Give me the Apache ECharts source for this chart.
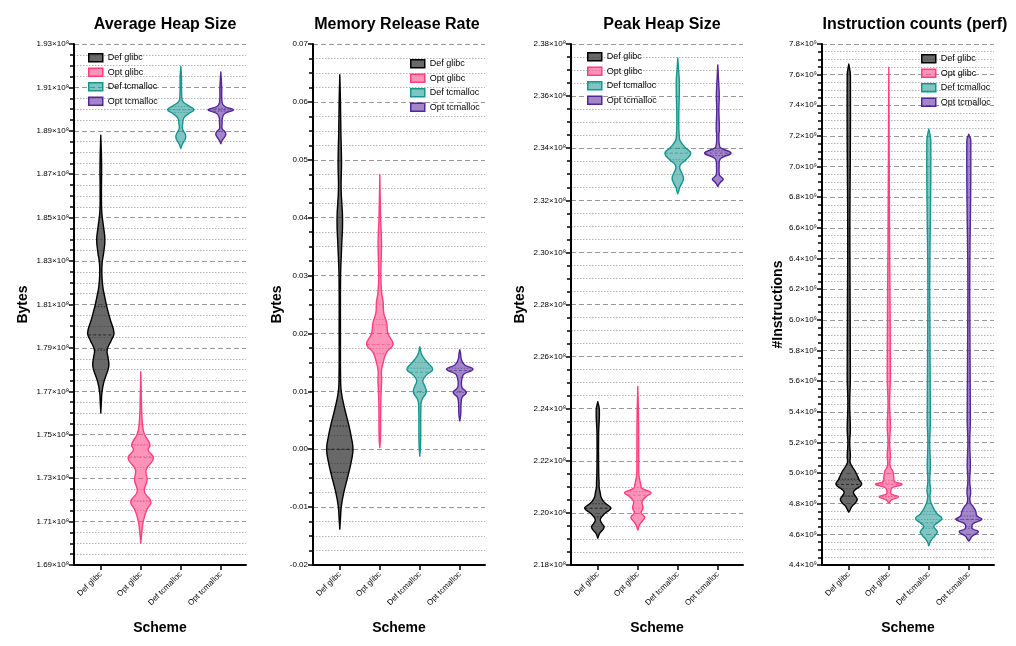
<!DOCTYPE html>
<html><head><meta charset="utf-8">
<script src="https://cdn.jsdelivr.net/npm/echarts@6/dist/echarts.min.js"></script>
<style>html,body{margin:0;padding:0;background:#fff}#c{width:1016px;height:646px}</style>
</head><body><div id="c"></div>
<script>
// ---------- DATA ----------
const categories = ['Def glibc', 'Opt glibc', 'Def tcmalloc', 'Opt tcmalloc'];
const panelTitles = ['Average Heap Size', 'Memory Release Rate', 'Peak Heap Size', 'Instruction counts (perf)'];
const yNames = ['Bytes', 'Bytes', 'Bytes', '#Instructions'];

// violin profiles: [value, relative density]; panel 1 & 3 in units of 1e8, panel 4 in 1e9
const heapDefGlibc = [[1.760,0],[1.766,0.05],[1.769,0.08],[1.774,0.22],[1.7814,0.6],[1.7855,0.55],[1.7891,0.48],[1.7935,0.8],[1.7968,1.0],[1.803,0.72],[1.8091,0.45],[1.8140,0.28],[1.8183,0.15],[1.824,0.08],[1.829,0.1],[1.834,0.22],[1.8398,0.31],[1.846,0.2],[1.8521,0.08],[1.86,0.05],[1.875,0.06],[1.888,0]];
const heapOptGlibc = [[1.700,0],[1.705,0.08],[1.710,0.18],[1.7154,0.45],[1.7192,0.77],[1.7238,0.27],[1.7292,0.48],[1.7338,0.4],[1.7392,0.96],[1.743,0.55],[1.7453,0.7],[1.7507,0.25],[1.7569,0.1],[1.765,0.05],[1.779,0]];
const heapDefTc = [[1.8818,0],[1.8836,0.1],[1.8874,0.38],[1.891,0.12],[1.8935,0.15],[1.8959,0.22],[1.898,0.6],[1.8997,1],[1.9015,0.6],[1.9036,0.15],[1.906,0.07],[1.915,0.05],[1.9197,0]];
const heapOptTc = [[1.8841,0],[1.8855,0.1],[1.8873,0.3],[1.8885,0.38],[1.8897,0.3],[1.891,0.1],[1.8935,0.1],[1.896,0.12],[1.898,0.3],[1.8997,0.96],[1.9012,0.3],[1.903,0.1],[1.91,0.07],[1.9171,0]];

const relDefGlibc = [[-0.0138,0],[-0.012,0.05],[-0.0098,0.12],[-0.0075,0.3],[-0.0046,0.62],[-0.002,0.88],[0,1],[0.002,0.88],[0.004,0.7],[0.0069,0.38],[0.0098,0.12],[0.012,0.06],[0.02,0.05],[0.03,0.06],[0.035,0.14],[0.0397,0.21],[0.045,0.1],[0.0495,0.13],[0.055,0.08],[0.06,0.05],[0.0647,0]];
const relOptGlibc = [[0.0003,0],[0.002,0.05],[0.0075,0.07],[0.0098,0.1],[0.0121,0.14],[0.0135,0.12],[0.0149,0.25],[0.0167,0.5],[0.0181,1],[0.02,0.62],[0.0218,0.52],[0.0235,0.3],[0.0255,0.25],[0.027,0.14],[0.03,0.08],[0.0356,0.13],[0.04,0.06],[0.0474,0]];
const relDefTc = [[-0.0012,0],[0.001,0.06],[0.007,0.08],[0.0085,0.15],[0.0098,0.48],[0.0108,0.4],[0.0118,0.23],[0.0128,0.5],[0.0138,0.98],[0.0148,0.65],[0.0155,0.38],[0.0165,0.12],[0.0177,0]];
const relOptTc = [[0.0049,0],[0.006,0.07],[0.008,0.1],[0.009,0.18],[0.0098,0.5],[0.0106,0.18],[0.0115,0.12],[0.0125,0.2],[0.013,0.32],[0.0138,1],[0.0146,0.35],[0.0155,0.12],[0.0165,0.06],[0.0172,0]];

const peakDefGlibc = [[2.1903,0],[2.1915,0.08],[2.1922,0.15],[2.1945,0.48],[2.196,0.3],[2.1973,0.19],[2.1985,0.3],[2.1999,0.55],[2.2018,1],[2.203,0.75],[2.2043,0.45],[2.206,0.25],[2.2075,0.19],[2.21,0.1],[2.2114,0.1],[2.215,0.07],[2.23,0.06],[2.2395,0.12],[2.2427,0]];
const peakOptGlibc = [[2.1934,0],[2.195,0.1],[2.196,0.2],[2.1983,0.52],[2.2001,0.25],[2.2018,0.4],[2.2043,0.32],[2.2062,0.62],[2.2078,1],[2.2094,0.32],[2.211,0.22],[2.2127,0.15],[2.215,0.08],[2.22,0.07],[2.235,0.06],[2.2485,0]];
const peakDefTc = [[2.3225,0],[2.3237,0.08],[2.3247,0.12],[2.3265,0.3],[2.3285,0.43],[2.3305,0.3],[2.3322,0.15],[2.3336,0.19],[2.3356,0.62],[2.3381,0.98],[2.34,0.62],[2.3413,0.38],[2.3428,0.18],[2.3439,0.12],[2.35,0.07],[2.365,0.12],[2.37,0.06],[2.3746,0]];
const peakOptTc = [[2.3253,0],[2.3264,0.12],[2.3272,0.25],[2.3281,0.41],[2.329,0.25],[2.3298,0.12],[2.333,0.1],[2.3356,0.15],[2.3366,0.38],[2.3381,1],[2.3397,0.38],[2.3405,0.15],[2.345,0.08],[2.3471,0.12],[2.355,0.08],[2.36,0.11],[2.365,0.07],[2.372,0]];

const instDefGlibc = [[4.745,0],[4.76,0.1],[4.784,0.25],[4.805,0.5],[4.828,0.64],[4.85,0.5],[4.872,0.35],[4.889,0.46],[4.926,0.97],[4.959,0.77],[5.002,0.54],[5.046,0.23],[5.07,0.1],[5.111,0.12],[5.2,0.07],[5.285,0.12],[5.45,0.07],[5.633,0.12],[6.5,0.08],[7.597,0.12],[7.669,0]];
const instOptGlibc = [[4.806,0],[4.815,0.1],[4.824,0.18],[4.846,0.74],[4.862,0.18],[4.88,0.15],[4.904,0.25],[4.926,1],[4.945,0.42],[4.97,0.38],[4.99,0.35],[5.013,0.3],[5.035,0.15],[5.06,0.08],[5.111,0.12],[5.2,0.06],[5.307,0.12],[5.45,0.06],[5.633,0.12],[6.5,0.06],[7.648,0]];
const instDefTc = [[4.525,0],[4.55,0.1],[4.575,0.3],[4.6,0.55],[4.617,0.65],[4.635,0.5],[4.654,0.38],[4.675,0.65],[4.704,1],[4.73,0.68],[4.76,0.42],[4.79,0.25],[4.81,0.15],[4.85,0.08],[4.883,0.14],[4.95,0.07],[5.046,0.12],[5.2,0.07],[5.351,0.12],[6.2,0.07],[7.169,0.15],[7.245,0]];
const instOptTc = [[4.556,0],[4.57,0.12],[4.588,0.25],[4.617,0.73],[4.635,0.3],[4.654,0.23],[4.672,0.35],[4.698,0.98],[4.72,0.62],[4.745,0.54],[4.763,0.46],[4.785,0.3],[4.8,0.15],[4.83,0.08],[4.872,0.14],[4.95,0.07],[5.046,0.12],[5.2,0.07],[5.351,0.12],[6.2,0.07],[7.169,0.15],[7.212,0]];

// quartile lines [q1, median, q3]
const heapQuart = [[1.789, 1.796, 1.809], [1.7192, 1.7395, 1.7455], [1.8985, 1.8997, 1.9012], [1.8990, 1.8997, 1.9004]];
const relQuart = [[-0.004, 0.0, 0.004], [0.0165, 0.0181, 0.0215], [0.0098, 0.0133, 0.0140], [0.0098, 0.0136, 0.0140]];
const peakQuart = [[2.1985, 2.2018, 2.2035], [2.2018, 2.2068, 2.2082], [2.3356, 2.3381, 2.3400], [2.3372, 2.3381, 2.3390]];
const instQuart = [[4.85, 4.926, 4.96], [4.846, 4.926, 4.935], [4.64, 4.675, 4.73], [4.64, 4.698, 4.72]];

// axis ranges [min, max, interval]
const yRanges = [[1.69, 1.93, 0.02], [-0.02, 0.07, 0.01], [2.18, 2.38, 0.02], [4.4, 7.8, 0.2]];
const yLabelSuffix = ['×10⁸', '', '×10⁸', '×10⁹'];
const yLabelDigits = [2, 2, 2, 1];

const profiles = [
  [heapDefGlibc, heapOptGlibc, heapDefTc, heapOptTc],
  [relDefGlibc, relOptGlibc, relDefTc, relOptTc],
  [peakDefGlibc, peakOptGlibc, peakDefTc, peakOptTc],
  [instDefGlibc, instOptGlibc, instDefTc, instOptTc]
];
const quartiles = [heapQuart, relQuart, peakQuart, instQuart];

// ---------- STYLE ----------
const strokes = ['#000000', '#ff3d7f', '#17958f', '#55259a'];
const fills = ['rgba(40,40,40,0.7)', 'rgba(255,61,127,0.55)', 'rgba(23,149,143,0.55)', 'rgba(85,37,154,0.55)'];
const gridLefts = [74, 313, 571, 822];
const GW = 172, GTOP = 44, GH = 521;
const titleCenters = [160, 392, 657, 910];
const yNameGaps = [44, 29, 44, 35];
const legendPos = [[88, 53], [410, 59], [587, 52], [921, 54]];
const FONT = 'Liberation Sans, Arial, sans-serif';
const HALF = 0.33; // max half-width in x-axis units

function widthAt(prof, v) {
  for (let i = 0; i < prof.length - 1; i++) {
    const a = prof[i], b = prof[i + 1];
    if (v >= a[0] && v <= b[0]) return a[1] + (b[1] - a[1]) * (v - a[0]) / (b[0] - a[0]);
  }
  return 0;
}

function makeRender(p, k) {
  return function (params, api) {
    const prof = profiles[p][k];
    const xc = k + 1;
    const halfPx = api.size([HALF, 0])[0];
    const cx = api.coord([xc, prof[0][0]])[0];
    const left = prof.map(d => [cx - d[1] * halfPx, api.coord([xc, d[0]])[1]]);
    const right = prof.slice().reverse().map(d => [cx + d[1] * halfPx, api.coord([xc, d[0]])[1]]);
    const children = [{
      type: 'polygon',
      shape: { points: left.concat(right), smooth: 0.45 },
      style: { fill: fills[k], stroke: strokes[k], lineWidth: 1.4, lineJoin: 'round' }
    }];
    quartiles[p][k].forEach((q, qi) => {
      const w = widthAt(prof, q) * halfPx;
      const y = api.coord([xc, q])[1];
      children.push({
        type: 'line',
        shape: { x1: cx - w, y1: y, x2: cx + w, y2: y },
        style: { stroke: strokes[k], lineWidth: 0.8, opacity: 0.8, lineDash: qi === 1 ? [3, 2] : [1.5, 1.5] }
      });
    });
    return { type: 'group', children };
  };
}

const grid = [], xAxis = [], yAxis = [], series = [], title = [], legend = [];
for (let p = 0; p < 4; p++) {
  grid.push({ left: gridLefts[p], top: GTOP, width: GW, height: GH });
  title.push({
    text: panelTitles[p], left: titleCenters[p], top: 12, textAlign: 'center',
    textStyle: { fontFamily: FONT, fontWeight: 'bold', fontSize: 16, color: '#000' }
  });
  xAxis.push({
    type: 'value', gridIndex: p, min: 0.33, max: 4.63,
    name: 'Scheme', nameLocation: 'middle', nameGap: 56,
    nameTextStyle: { fontFamily: FONT, fontWeight: 'bold', fontSize: 14, color: '#000' },
    axisLine: { show: true, onZero: false, lineStyle: { color: '#000', width: 2 } },
    axisTick: { show: true, customValues: [1, 2, 3, 4], length: 5, lineStyle: { color: '#000', width: 1.5 } },
    axisLabel: {
      customValues: [1, 2, 3, 4], rotate: 45, fontSize: 8, color: '#000', fontFamily: FONT, margin: 8,
      formatter: v => categories[Math.round(v) - 1]
    },
    splitLine: { show: false }
  });
  const r = yRanges[p];
  yAxis.push({
    type: 'value', gridIndex: p, min: r[0], max: r[1], interval: r[2],
    name: yNames[p], nameLocation: 'middle', nameGap: yNameGaps[p],
    nameTextStyle: { fontFamily: FONT, fontWeight: 'bold', fontSize: 14, color: '#000' },
    axisLine: { show: true, lineStyle: { color: '#000', width: 2 } },
    axisTick: { show: true, length: 5, lineStyle: { color: '#000', width: 1.5 } },
    minorTick: { show: true, splitNumber: 4, length: 4, lineStyle: { color: '#000', width: 1.5 } },
    axisLabel: {
      fontSize: 8, color: '#000', fontFamily: FONT, margin: 5,
      formatter: v => v.toFixed(yLabelDigits[p]) + yLabelSuffix[p]
    },
    splitLine: { show: true, lineStyle: { color: '#999', width: 1, type: [5, 3] } },
    minorSplitLine: { show: true, lineStyle: { color: '#b5b5b5', width: 1, type: [1.5, 1.5] } }
  });
  legend.push({
    orient: 'vertical', left: legendPos[p][0], top: legendPos[p][1], padding: 0,
    itemWidth: 14, itemHeight: 8, itemGap: 5, icon: 'rect',
    textStyle: { fontFamily: FONT, fontSize: 9, color: '#000' },
    data: categories.map((c, k) => ({ name: c, itemStyle: { color: fills[k], borderColor: strokes[k], borderWidth: 1.5 } })),
    selectedMode: false
  });
  for (let k = 0; k < 4; k++) {
    series.push({
      type: 'custom', name: categories[k], xAxisIndex: p, yAxisIndex: p,
      itemStyle: { color: fills[k], borderColor: strokes[k] },
      renderItem: makeRender(p, k),
      data: [[k + 1, quartiles[p][k][1]]],
      clip: false, silent: true, animation: false
    });
  }
}

const chart = echarts.init(document.getElementById('c'), null, { renderer: 'canvas' });
chart.setOption({ animation: false, backgroundColor: '#fff', title, grid, xAxis, yAxis, legend, series });
</script></body></html>
